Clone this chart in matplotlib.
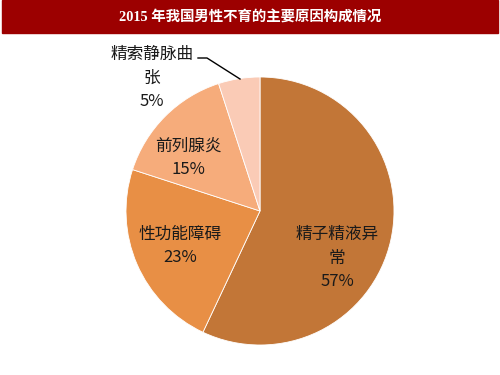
import matplotlib.pyplot as plt
from matplotlib.patches import Rectangle

plt.rcParams["font.family"] = ["Noto Sans CJK SC", "DejaVu Sans"]

# data
title = "2015 年我国男性不育的主要原因构成情况"
causes = ["精子精液异常", "性功能障碍", "前列腺炎", "精索静脉曲张"]
shares = [57, 23, 15, 5]
label_text = ["精子精液异\n常\n57%", "性功能障碍\n23%", "前列腺炎\n15%", "精索静脉曲\n张\n5%"]
colors = ["#C27637", "#E88F45", "#F6AC7B", "#FACBB6"]

W, H = 500, 375
fig = plt.figure(figsize=(5, 3.75), dpi=100)

# title bar
fig.patches.append(Rectangle((2 / W, 1 - 33 / H), 496 / W, 33 / H,
                             transform=fig.transFigure, color="#9C0000", zorder=0))
fig.text(0.5, 1 - 17 / H, title, color="white", fontsize=10.4, fontweight="bold",
         ha="center", va="center", family=["Liberation Serif", "Noto Sans CJK SC"])

# pie centred at (260, 211) px, radius 134 px
cx, cy, r = 260, 211, 134
ax = fig.add_axes([(cx - r) / W, (H - cy - r) / H, 2 * r / W, 2 * r / H])
ax.pie(shares, colors=colors, startangle=90, counterclock=False,
       wedgeprops=dict(edgecolor="white", linewidth=0.6))
ax.set_xlim(-1, 1)
ax.set_ylim(-1, 1)
ax.axis("off")


def px(x, y):
    return (x - cx) / r, (cy - y) / r


label_pos = [(337, 258), (180, 246), (188, 158), (152, 78)]
for txt, (x, y) in zip(label_text, label_pos):
    ax.text(*px(x, y), txt, ha="center", va="center", fontsize=12,
            linespacing=1.5, color="#1a1a1a", clip_on=False)

# leader line for the small slice
line = [px(198, 58), px(207, 58), px(240, 79)]
ax.plot([p[0] for p in line], [p[1] for p in line], color="black", lw=1, clip_on=False)

fig.savefig("out.png", dpi=100)
